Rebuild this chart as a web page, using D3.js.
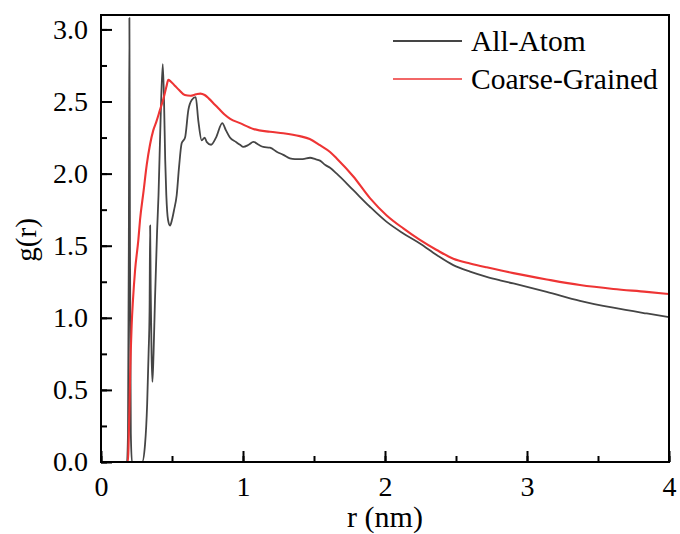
<!DOCTYPE html>
<head>
<meta charset="utf-8">
<title>g(r)</title>
<style>
body { margin: 0; background: #fff; }
path.line {
  fill: none;
  stroke-linejoin: round;
}
</style>
</head>
<body>
<script src="https://cdn.jsdelivr.net/npm/d3@7"></script>
<script>
// All-Atom g(r)
var aaR = [0, 0.183, 0.19, 0.196, 0.2, 0.204, 0.21, 0.218, 0.29, 0.31, 0.325, 0.335, 0.342, 0.346,
  0.35, 0.356, 0.362, 0.37, 0.38, 0.395, 0.405, 0.42, 0.435, 0.444, 0.452, 0.46, 0.472, 0.486,
  0.5, 0.515, 0.533, 0.55, 0.568, 0.592, 0.615, 0.639, 0.667, 0.685, 0.709, 0.73, 0.744, 0.775,
  0.81, 0.854, 0.88, 0.908, 0.95, 0.979, 1.002, 1.04, 1.073, 1.11, 1.143, 1.19, 1.24, 1.284,
  1.33, 1.366, 1.42, 1.472, 1.51, 1.542, 1.58, 1.613, 1.66, 1.777, 1.894, 2.012, 2.129, 2.246,
  2.364, 2.481, 2.599, 2.716, 2.81, 2.904, 3.139, 3.373, 3.608, 3.843, 4.0];
var aaG = [0, 0, 0.2, 1.5, 3.08, 1.5, 0.2, 0, 0, 0.12, 0.4, 0.75, 1.05, 1.64,
  1.2, 0.75, 0.556, 0.75, 1.12, 1.6, 1.85, 2.39, 2.76, 2.5, 2.1, 1.85, 1.68, 1.64,
  1.68, 1.75, 1.85, 2.05, 2.21, 2.25, 2.44, 2.51, 2.53, 2.37, 2.23, 2.25, 2.22, 2.20,
  2.25, 2.35, 2.3, 2.25, 2.22, 2.20, 2.185, 2.2, 2.22, 2.2, 2.185, 2.18, 2.15, 2.13,
  2.105, 2.10, 2.1, 2.11, 2.1, 2.09, 2.06, 2.04, 2.0, 1.885, 1.77, 1.665, 1.585, 1.515,
  1.435, 1.365, 1.32, 1.284, 1.26, 1.238, 1.18, 1.118, 1.07, 1.03, 1.005];

// Coarse-Grained g(r)
var cgR = [0, 0.19, 0.195, 0.2, 0.205, 0.21, 0.216, 0.225, 0.24, 0.263, 0.275, 0.3, 0.322, 0.345,
  0.368, 0.39, 0.415, 0.44, 0.46, 0.474, 0.49, 0.52, 0.55, 0.59, 0.63, 0.67, 0.7, 0.73, 0.76,
  0.8, 0.83, 0.87, 0.91, 0.979, 1.073, 1.19, 1.284, 1.4, 1.47, 1.542, 1.613, 1.66, 1.777, 1.894,
  2.012, 2.129, 2.246, 2.364, 2.481, 2.599, 2.716, 2.81, 2.904, 3.139, 3.373, 3.608, 3.843, 4.0];
var cgG = [0, 0, 0.15, 0.35, 0.6, 0.78, 0.95, 1.12, 1.33, 1.54, 1.68, 1.88, 2.06, 2.2,
  2.3, 2.36, 2.44, 2.52, 2.6, 2.65, 2.64, 2.61, 2.58, 2.545, 2.54, 2.55, 2.555, 2.545, 2.52,
  2.48, 2.45, 2.41, 2.38, 2.35, 2.31, 2.29, 2.28, 2.26, 2.24, 2.197, 2.15, 2.105, 1.98, 1.83,
  1.71, 1.62, 1.54, 1.47, 1.41, 1.377, 1.35, 1.33, 1.31, 1.266, 1.227, 1.2, 1.18, 1.165];

var xTicks = [0, 1, 2, 3, 4];
var yTicks = [0, 0.5, 1.0, 1.5, 2.0, 2.5, 3.0];
var seriesNames = ["All-Atom", "Coarse-Grained"];
var seriesColors = ["#454545", "#ee3434"];

var font = "Liberation Serif";

var width = 680,
    height = 534,
    margin = {top: 15, right: 11, bottom: 72, left: 101};

var svg = d3.select("body").append("svg")
  .attr("width", width)
  .attr("height", height);

var x = d3.scaleLinear()
  .domain([0, 4])
  .range([margin.left, width - margin.right]);

var y = d3.scaleLinear()
  .domain([0, 3.1])
  .range([height - margin.bottom, margin.top]);

var series = [
  aaR.map(function(r, i) { return [r, aaG[i]]; }),
  cgR.map(function(r, i) { return [r, cgG[i]]; })
];

var line = d3.line()
  .x(function(d) { return x(d[0]); })
  .y(function(d) { return y(d[1]); })
  .curve(d3.curveMonotoneX);

var plot = svg.append("g");

plot.selectAll("path.line")
  .data(series)
  .enter().append("path")
  .attr("class", "line")
  .attr("d", line)
  .style("stroke", function(d, i) { return seriesColors[i]; })
  .style("stroke-width", function(d, i) { return i == 0 ? 1.8 : 2.1; });

// inward ticks, bottom and left only
svg.append("g")
  .attr("transform", "translate(0," + y(0) + ")")
  .call(d3.axisBottom(x).tickValues(d3.range(0, 4.01, 0.5)).tickSize(-6).tickFormat(""));

svg.append("g")
  .attr("transform", "translate(0," + y(0) + ")")
  .call(d3.axisBottom(x).tickValues(xTicks).tickSize(-11).tickPadding(14).tickFormat(d3.format("d")));

svg.append("g")
  .attr("transform", "translate(" + x(0) + ",0)")
  .call(d3.axisLeft(y).tickValues(d3.range(0, 3.01, 0.25)).tickSize(-6).tickFormat(""));

svg.append("g")
  .attr("transform", "translate(" + x(0) + ",0)")
  .call(d3.axisLeft(y).tickValues(yTicks).tickSize(-11).tickPadding(13).tickFormat(d3.format(".1f")));

svg.selectAll(".domain").remove();
svg.selectAll(".tick line").attr("stroke", "#000").attr("stroke-width", 2);
svg.selectAll(".tick text")
  .style("font-family", font)
  .style("font-size", "28px")
  .attr("fill", "#000");

// frame
svg.append("rect")
  .attr("x", x(0))
  .attr("y", y(3.1))
  .attr("width", x(4) - x(0))
  .attr("height", y(0) - y(3.1))
  .attr("fill", "none")
  .attr("stroke", "#000")
  .attr("stroke-width", 2);

svg.append("text")
  .attr("x", (x(0) + x(4)) / 2)
  .attr("y", 527)
  .attr("text-anchor", "middle")
  .style("font-family", font)
  .style("font-size", "30px")
  .text("r (nm)");

svg.append("text")
  .attr("transform", "translate(36," + y(1.54) + ") rotate(-90)")
  .attr("text-anchor", "middle")
  .style("font-family", font)
  .style("font-size", "29px")
  .text("g(r)");

// legend
var legend = svg.append("g")
  .attr("transform", "translate(393,41)");

var item = legend.selectAll("g")
  .data(seriesNames)
  .enter().append("g")
  .attr("transform", function(d, i) { return "translate(0," + i * 38 + ")"; });

item.append("line")
  .attr("x1", 0)
  .attr("x2", 69)
  .attr("stroke", function(d, i) { return seriesColors[i]; })
  .attr("stroke-width", function(d, i) { return i == 0 ? 2 : 1.6; });

item.append("text")
  .attr("x", 78)
  .attr("y", 10)
  .style("font-family", font)
  .style("font-size", "29.5px")
  .text(function(d) { return d; });
</script>
</body>
</html>
